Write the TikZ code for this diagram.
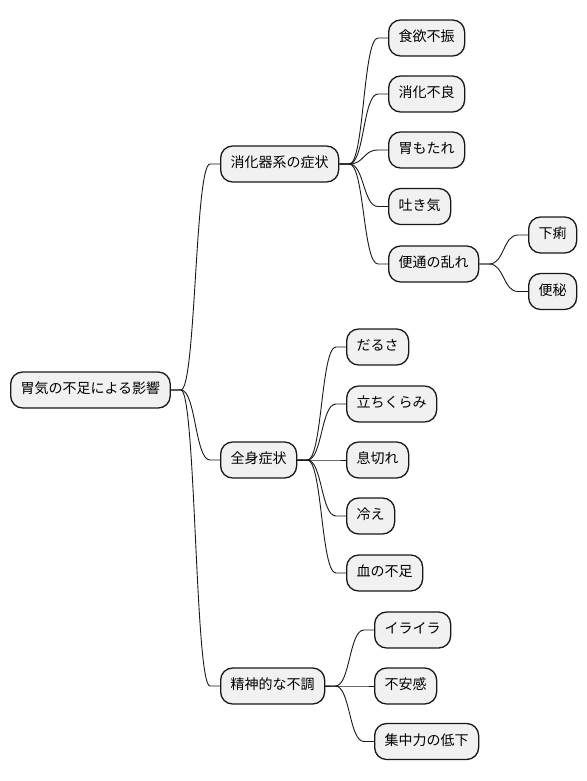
\documentclass[tikz,border=0pt]{standalone}
\usepackage{fontspec}
\newfontfamily\cjk{Noto Sans CJK JP}
\definecolor{boxfill}{HTML}{F1F1F1}
\definecolor{boxline}{HTML}{181818}
\tikzset{
  mm/.style={draw=boxline, fill=boxfill, line width=1.3pt, rounded corners=12pt,
    minimum height=36pt, inner xsep=10pt, inner ysep=0pt, anchor=west,
    font=\cjk\fontsize{14pt}{16pt}\selectfont, text height=0.88em, text depth=0.12em},
  link/.style={draw=boxline, line width=0.9pt}
}
\newcommand\mmlink[2]{\draw[link] (#1.east) -- ++(10pt,0) .. controls +(15pt,0) and +(-15pt,0) .. ([xshift=-10pt]#2.west) -- (#2.west);}
\begin{document}
\begin{tikzpicture}[x=1pt,y=-1pt]
\useasboundingbox (0,0) rectangle (586,781);
\node[mm] (root) at (10,390) {胃気の不足による影響};
\node[mm] (a) at (220,164) {消化器系の症状};
\node[mm] (a1) at (388,38) {食欲不振};
\node[mm] (a2) at (388,94) {消化不良};
\node[mm] (a3) at (388,150) {胃もたれ};
\node[mm] (a4) at (388,206.5) {吐き気};
\node[mm] (a5) at (388,264) {便通の乱れ};
\node[mm] (a51) at (528,235) {下痢};
\node[mm] (a52) at (528,291.5) {便秘};
\node[mm] (b) at (220,460) {全身症状};
\node[mm] (b1) at (346,347) {だるさ};
\node[mm] (b2) at (346,404) {立ちくらみ};
\node[mm] (b3) at (346,460) {息切れ};
\node[mm] (b4) at (346,516) {冷え};
\node[mm] (b5) at (346,573) {血の不足};
\node[mm] (c) at (220,686) {精神的な不調};
\node[mm] (c1) at (374,630) {イライラ};
\node[mm] (c2) at (374,686) {不安感};
\node[mm] (c3) at (374,741.5) {集中力の低下};
\mmlink{root}{a}
\mmlink{root}{b}
\mmlink{root}{c}
\mmlink{a}{a1}
\mmlink{a}{a2}
\mmlink{a}{a3}
\mmlink{a}{a4}
\mmlink{a}{a5}
\mmlink{a5}{a51}
\mmlink{a5}{a52}
\mmlink{b}{b1}
\mmlink{b}{b2}
\mmlink{b}{b3}
\mmlink{b}{b4}
\mmlink{b}{b5}
\mmlink{c}{c1}
\mmlink{c}{c2}
\mmlink{c}{c3}
\end{tikzpicture}
\end{document}
